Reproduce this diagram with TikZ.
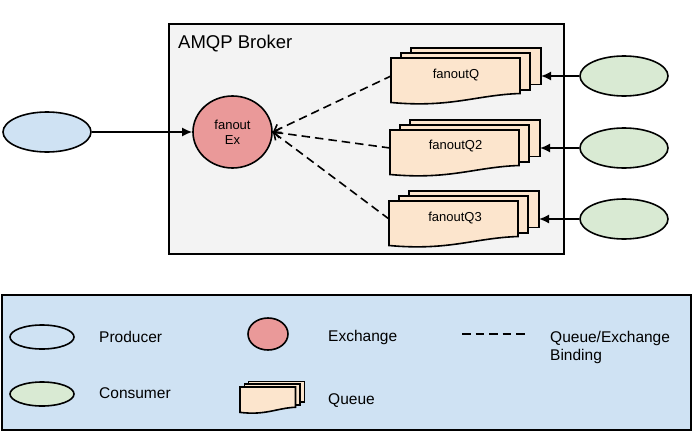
\documentclass[tikz,border=0pt]{standalone}
\usepackage{fontspec}
\setmainfont{Liberation Sans}
\usetikzlibrary{arrows.meta,positioning,shapes.geometric}
\definecolor{BrokerGray}{HTML}{F3F3F3}
\definecolor{SoftBlue}{HTML}{CFE2F3}
\definecolor{SoftGreen}{HTML}{D9EAD3}
\definecolor{SoftRed}{HTML}{EA9999}
\definecolor{SoftOrange}{HTML}{FCE5CD}

\begin{document}
\begin{tikzpicture}[x=1pt,y=-1pt,>={Latex[length=10pt,width=9pt]},every node/.style={font=\fontsize{15.5}{18}\selectfont}]
\tikzset{box/.style={draw=black,line width=1.4pt,rectangle,inner sep=0pt},
  actor/.style={draw=black,line width=1.6pt,ellipse,inner sep=0pt,minimum width=88pt,minimum height=40pt},
  smallactor/.style={actor,minimum width=64pt,minimum height=24pt},
  exchange/.style={draw=black,line width=1.6pt,ellipse,fill=SoftRed,inner sep=0pt,align=center,font=\fontsize{13}{15}\selectfont},
  qline/.style={draw=black,line width=1.6pt,fill=SoftOrange,line join=miter},
  qname/.style={font=\fontsize{13}{15}\selectfont,inner sep=0pt},
  legtext/.style={anchor=west,inner sep=0pt,align=left},
  link/.style={->,line width=1.6pt},
  binding/.style={line width=1.6pt,dash pattern=on 8.5pt off 5pt},
  pics/qstack/.style={code={
    \draw[qline] (20,-10) rectangle (150,26.5);
    \draw[qline] (10,-5) rectangle (139,32);
    \draw[qline] (0,0) -- (129,0) -- (129,35.5) .. controls (85,37) and (60,50) .. (0,44.5) -- cycle;
    \coordinate (-in) at (0,18);
    \coordinate (-out) at (150,18);
  }}}
\useasboundingbox (0,0) rectangle (695,431);
% broker and legend panels
\node[box,fill=BrokerGray,minimum width=395pt,minimum height=230pt] (broker) at (366.5,139) {};
\node[box,fill=SoftBlue,minimum width=689pt,minimum height=135pt] (legend) at (346.5,362.5) {};
\node[anchor=west,inner sep=0pt,font=\fontsize{18.5}{22}\selectfont] (title) at (178,44) {AMQP Broker};
% top row
\node[actor,fill=SoftBlue] (prod) at (47,132) {};
\node[exchange,minimum width=79pt,minimum height=72pt] (fanout) at (232.5,132) {fanout\\Ex};
\pic (qa) at (391,58) {qstack};
\pic (qb) at (390,130) {qstack};
\pic (qc) at (389,201) {qstack};
\node[qname] (qaname) at (456,75) {fanoutQ};
\node[qname] (qbname) at (455.5,146) {fanoutQ2};
\node[qname] (qcname) at (455,218) {fanoutQ3};
\node[actor,fill=SoftGreen] (cona) at (624,76) {};
\node[actor,fill=SoftGreen] (conb) at (624,148) {};
\node[actor,fill=SoftGreen] (conc) at (624,219) {};
\draw[link] (prod)--(fanout);
\draw[link] (cona)--(qa-out);
\draw[link] (conb)--(qb-out);
\draw[link] (conc)--(qc-out);
\draw[binding,<-,>={Straight Barb[length=6pt,width=10pt]}] (fanout.east)--(qa-in);
\draw[binding,<-,>={Straight Barb[length=6pt,width=10pt]}] (fanout.east)--(qb-in);
\draw[binding,<-,>={Straight Barb[length=6pt,width=10pt]}] (fanout.east)--(qc-in);
% legend
\node[smallactor,fill=SoftBlue] (legprod) at (42,337) {};
\node[smallactor,fill=SoftGreen] (legcon) at (42,394) {};
\node[exchange,minimum width=40pt,minimum height=32pt] (legex) at (268,334) {};
\pic[xscale=.43,yscale=.57] (legq) at (240,387) {qstack};
\coordinate (bindl) at (462,334);
\coordinate (bindr) at (526,334);
\draw[binding] (bindl)--(bindr);
\node[legtext] (txtprod) at (99,337) {Producer};
\node[legtext] (txtcon) at (99,393) {Consumer};
\node[legtext] (txtex) at (328,337) {Exchange};
\node[legtext] (txtq) at (328,401) {Queue};
\node[legtext] (txtbind) at (550,347) {Queue/Exchange\\Binding};
\end{tikzpicture}
\end{document}
